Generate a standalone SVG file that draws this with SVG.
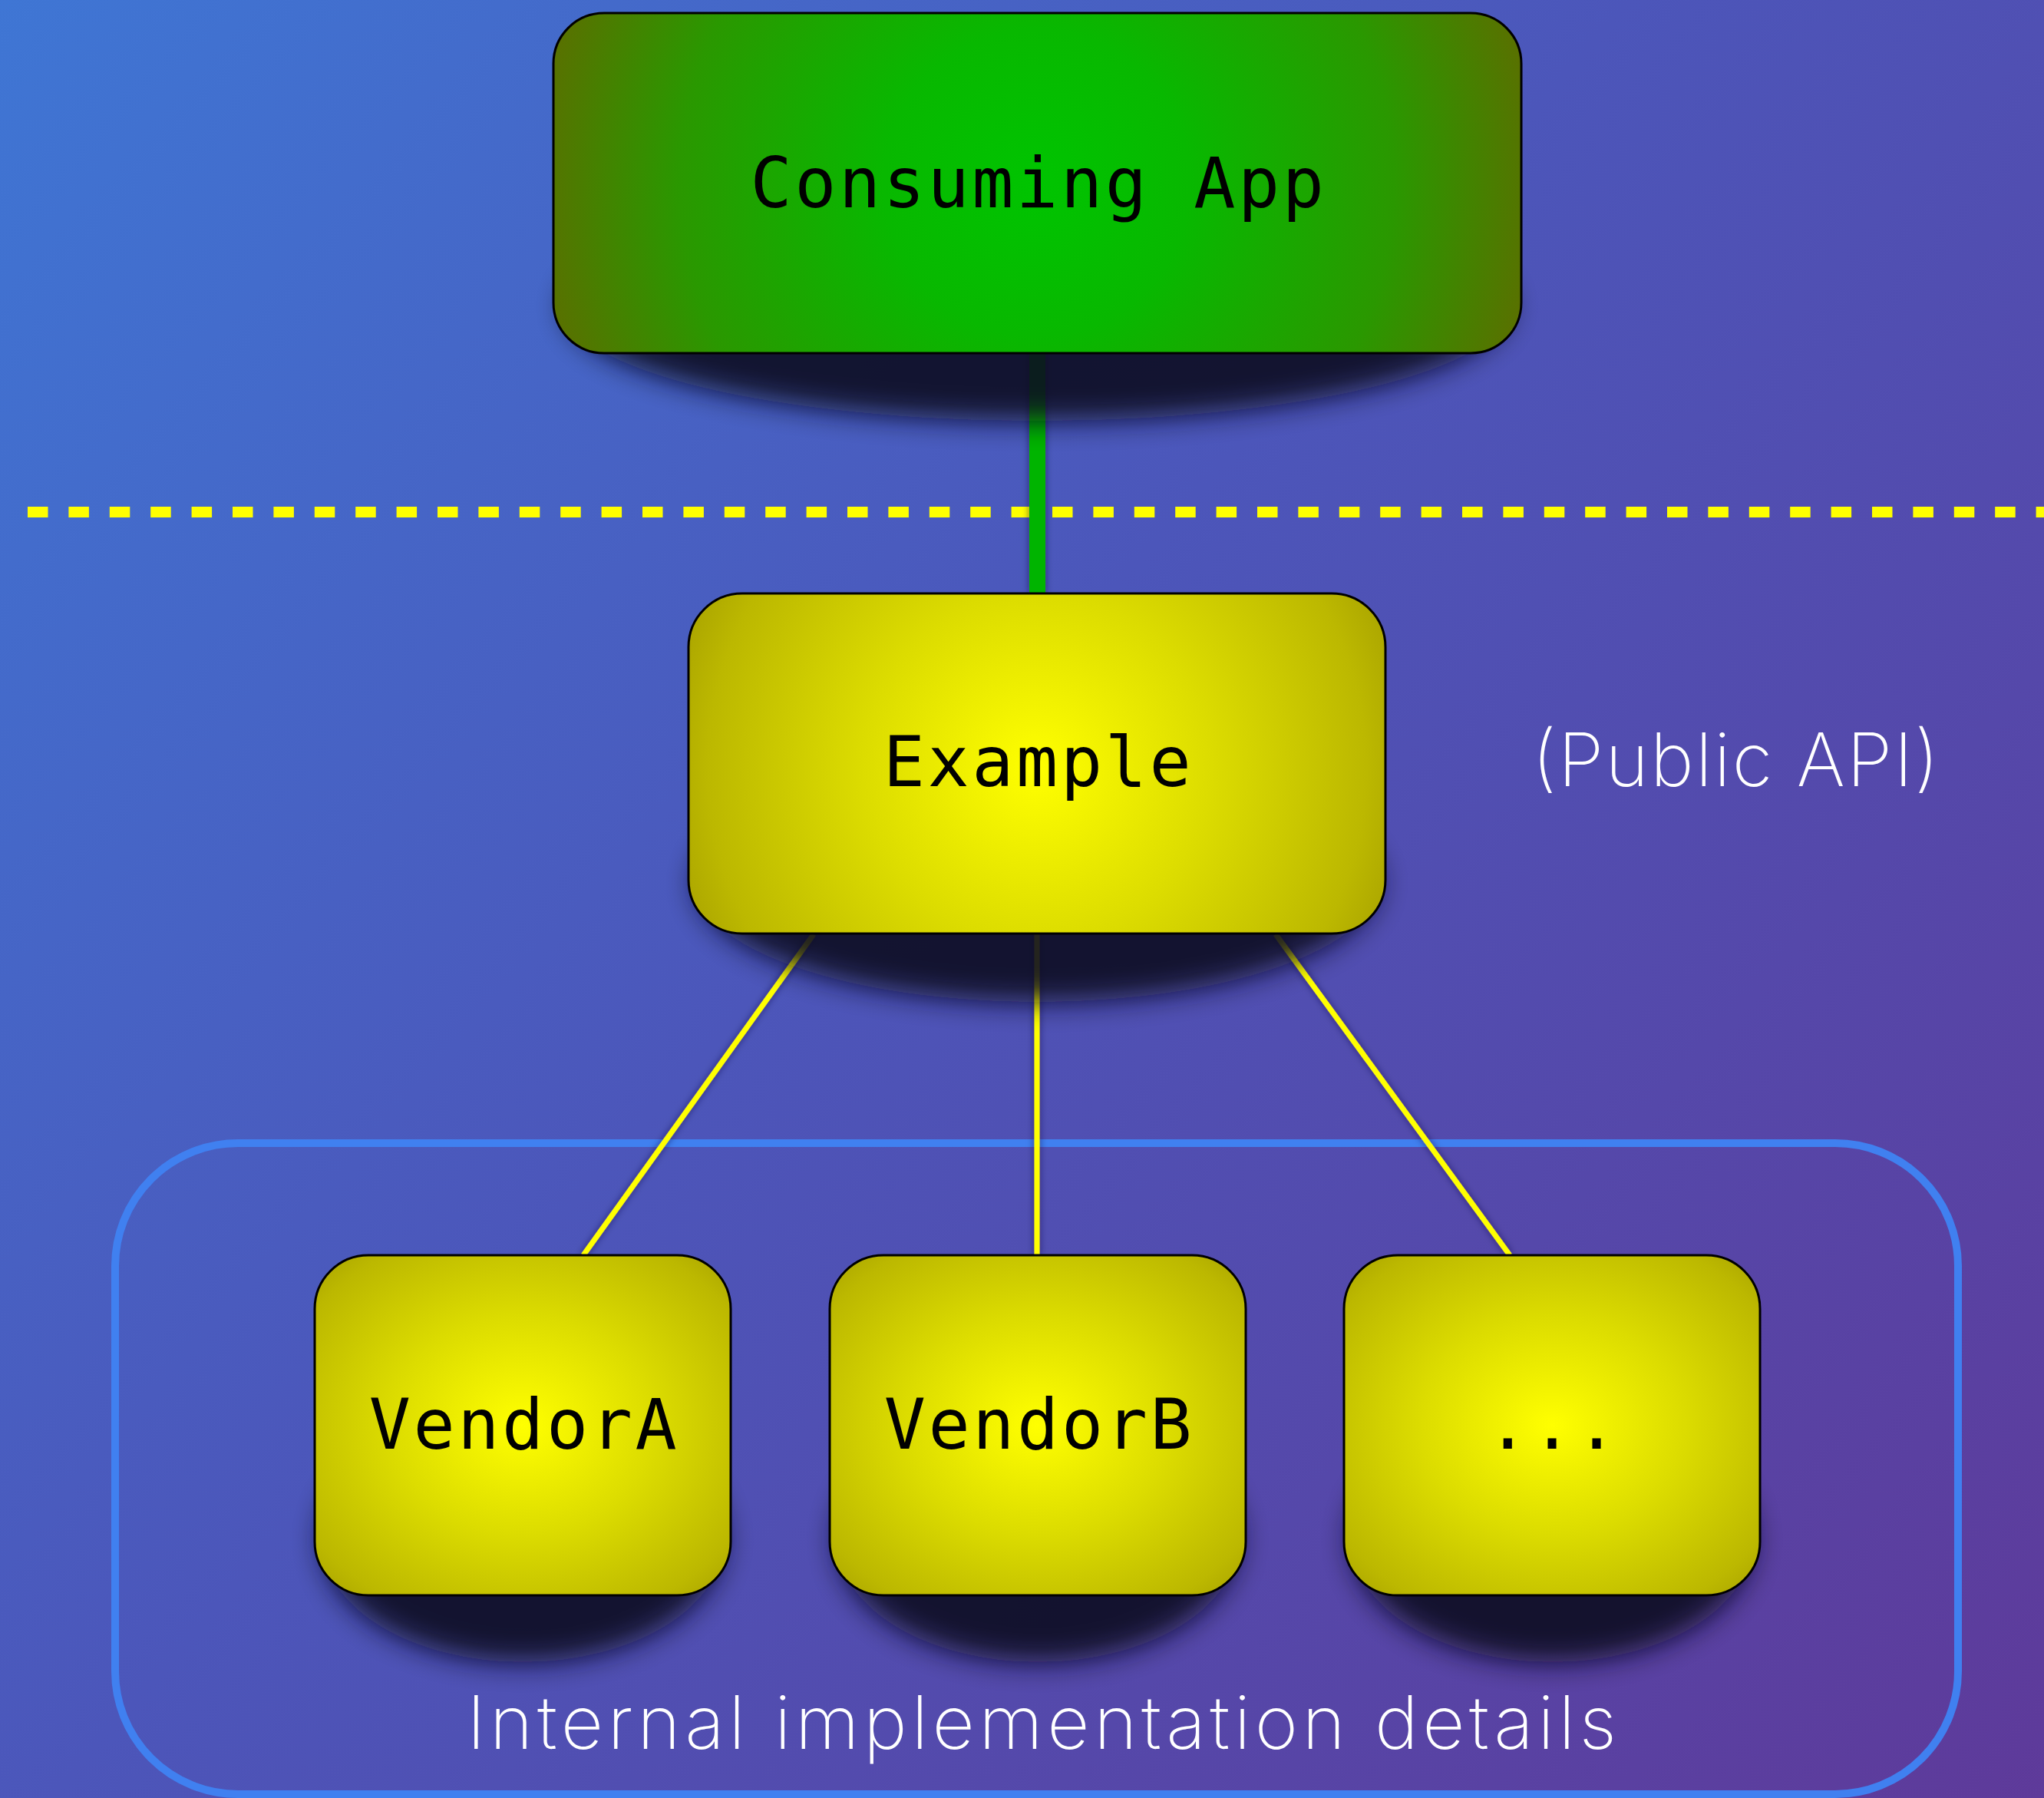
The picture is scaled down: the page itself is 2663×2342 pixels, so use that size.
<svg xmlns="http://www.w3.org/2000/svg" width="2663" height="2342" viewBox="0 0 2663 2342">
  <defs>
    <linearGradient id="bg" gradientUnits="userSpaceOnUse" x1="0" y1="0" x2="2663" y2="2342">
      <stop offset="0" stop-color="#3f76d4"/>
      <stop offset="0.45" stop-color="#4c56ba"/>
      <stop offset="1" stop-color="#5e3a9a"/>
    </linearGradient>
    <radialGradient id="gGreen" gradientUnits="userSpaceOnUse" cx="1351" cy="238" r="665">
      <stop offset="0" stop-color="#00c400"/>
      <stop offset="0.3" stop-color="#08b800"/>
      <stop offset="0.7" stop-color="#2a9800"/>
      <stop offset="1" stop-color="#5c6e00"/>
    </radialGradient>
    <radialGradient id="gExample" gradientUnits="userSpaceOnUse" cx="1351" cy="1000" r="505">
      <stop offset="0" stop-color="#ffff00"/>
      <stop offset="0.45" stop-color="#dcdc00"/>
      <stop offset="0.85" stop-color="#bcb800"/>
      <stop offset="1" stop-color="#a8a200"/>
    </radialGradient>
    <radialGradient id="gVendor" cx="0.5" cy="0.5" r="0.707">
      <stop offset="0" stop-color="#ffff00"/>
      <stop offset="0.45" stop-color="#dcdc00"/>
      <stop offset="0.85" stop-color="#bcb800"/>
      <stop offset="1" stop-color="#a8a200"/>
    </radialGradient>
    <filter id="shadowBlur" x="-20%" y="-50%" width="140%" height="200%">
      <feGaussianBlur stdDeviation="18"/>
    </filter>
    <filter id="lineShadow" x="-50%" y="-10%" width="200%" height="120%">
      <feGaussianBlur in="SourceAlpha" stdDeviation="5" result="b"/>
      <feFlood flood-color="#1a1640" flood-opacity="0.6"/>
      <feComposite in2="b" operator="in" result="s"/>
      <feMerge><feMergeNode in="s"/><feMergeNode in="SourceGraphic"/></feMerge>
    </filter>
  </defs>
  <style>
    .box { stroke: #000; stroke-width: 3; }
    .shadow { fill: #0e0a24; opacity: 0.9; filter: url(#shadowBlur); }
    .label { font-family: "DejaVu Sans Mono", "Liberation Mono", monospace; font-size: 90px; letter-spacing: 3.6px; fill: #000; text-anchor: middle; }
    .note { font-family: Inter, Lato, "Open Sans", sans-serif; font-weight: 200; font-size: 96px; fill: #fff; }
    .yline { stroke: #ffff00; stroke-width: 7; fill: none; }
  </style>

  <rect x="0" y="0" width="2663" height="2342" fill="url(#bg)"/>

  <g id="boundary">
    <line x1="36" y1="667" x2="2663" y2="667" stroke="#ffff00" stroke-width="14" stroke-dasharray="26.5 26.9"/>
  </g>

  <g id="internal-group">
    <rect x="150" y="1489" width="2401" height="848" rx="160" ry="160" fill="none" stroke="#4080f0" stroke-width="10"/>
    <text class="note" x="608" y="2278" textLength="1498" lengthAdjust="spacing">Internal implementation details</text>
  </g>

  <g id="connectors" filter="url(#lineShadow)">
    <line x1="1351.5" y1="460" x2="1351.5" y2="773" stroke="#00b400" stroke-width="21"/>
    <line class="yline" x1="1060" y1="1217" x2="760" y2="1635"/>
    <line class="yline" x1="1351" y1="1217" x2="1351" y2="1635"/>
    <line class="yline" x1="1662" y1="1217" x2="1967" y2="1635"/>
  </g>

  <g id="consuming-app">
    <ellipse class="shadow" cx="1351" cy="400" rx="615" ry="148"/>
    <rect class="box" x="721" y="17" width="1261" height="443" rx="66" ry="66" fill="url(#gGreen)"/>
    <text class="label" x="1353" y="270">Consuming App</text>
  </g>

  <g id="example">
    <ellipse class="shadow" cx="1351" cy="1150" rx="445" ry="155"/>
    <rect class="box" x="897" y="773" width="908" height="443" rx="70" ry="70" fill="url(#gExample)"/>
    <text class="label" x="1353" y="1024">Example</text>
  </g>

  <g id="public-api">
    <text class="note" x="1996" y="1024" textLength="530" lengthAdjust="spacing">(Public API)</text>
  </g>

  <g id="vendor-a">
    <ellipse class="shadow" cx="681" cy="2005" rx="262" ry="160"/>
    <rect class="box" x="410" y="1635" width="542" height="443" rx="70" ry="70" fill="url(#gVendor)"/>
    <text class="label" x="683" y="1887">VendorA</text>
  </g>

  <g id="vendor-b">
    <ellipse class="shadow" cx="1352" cy="2005" rx="262" ry="160"/>
    <rect class="box" x="1081" y="1635" width="542" height="443" rx="70" ry="70" fill="url(#gVendor)"/>
    <text class="label" x="1354" y="1887">VendorB</text>
  </g>

  <g id="vendor-more">
    <ellipse class="shadow" cx="2022" cy="2005" rx="262" ry="160"/>
    <rect class="box" x="1751" y="1635" width="542" height="443" rx="70" ry="70" fill="url(#gVendor)"/>
    <text class="label" x="2024" y="1887">...</text>
  </g>
</svg>
